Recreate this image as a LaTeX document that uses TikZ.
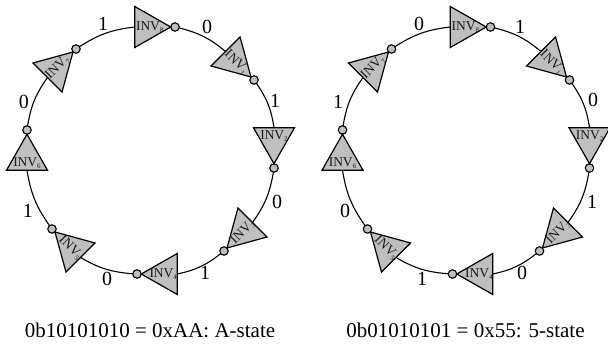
\documentclass[tikz,border=0pt]{standalone}
\usepackage{fontspec}
\setmainfont{Liberation Serif}
\usetikzlibrary{shapes.geometric}
\definecolor{invgray}{gray}{0.75}
\newcommand{\invtxt}[1]{{\fontsize{13.5}{13.5}\selectfont INV\raisebox{-2pt}{\fontsize{7}{7}\selectfont #1}}}
\tikzset{
  invtri/.style={draw=black,fill=invgray,line width=1.2pt,isosceles triangle,isosceles triangle apex angle=59,
    isosceles triangle stretches=true,minimum height=36pt,minimum width=41pt,inner sep=0pt,outer sep=0pt,anchor=apex},
  invbub/.style={draw=black,fill=invgray,line width=1.1pt,circle,minimum size=8.5pt,inner sep=0pt,outer sep=0pt},
  wire/.style={draw=black,line width=1.1pt},
  invlab/.style={inner sep=0pt,text=black!90},
  bitlab/.style={inner sep=0pt,font=\fontsize{20}{20}\selectfont},
  caplab/.style={inner sep=0pt,font=\fontsize{21}{21}\selectfont}
}
% prefix, number, x, y, triangle rotation, text rotation, text distance
\newcommand{\inverter}[7]{%
  \node[invbub] (#1b#2) at (#3,#4) {};
  \pgfmathsetmacro{\backang}{#5+180}
  \node[invtri,rotate=#5] (#1t#2) at (#1b#2.\backang) {};
  \path (#1t#2.lower side) ++(#5:#7) node[invlab,rotate=#6] (#1l#2) {\invtxt{#2}};
}
\newcommand{\ringat}[1]{%
  \begin{scope}[shift={(#1,0)}]
  \expandafter\ringbody\expandafter{\ringprefix}
  \end{scope}}
\newcommand{\ringbody}[1]{%
  \inverter{#1}{8}{175}{318}{0}{0}{15}
  \inverter{#1}{1}{254}{265}{-45}{-45}{15}
  \inverter{#1}{2}{274}{177}{-90}{0}{8.5}
  \inverter{#1}{3}{224}{94}{-135}{45}{14}
  \inverter{#1}{4}{137}{71}{180}{0}{14}
  \inverter{#1}{5}{52}{116}{135}{-45}{14}
  \inverter{#1}{6}{27}{215}{90}{0}{7}
  \inverter{#1}{7}{76}{296}{45}{45}{14}
  \draw[wire] (#1b8) to[bend left=13] (#1t1.lower side);
  \draw[wire] (#1b1) to[bend left=13] (#1t2.lower side);
  \draw[wire] (#1b2) to[bend left=13] (#1t3.lower side);
  \draw[wire] (#1b3) to[bend left=13] (#1t4.lower side);
  \draw[wire] (#1b4) to[bend left=13] (#1t5.lower side);
  \draw[wire] (#1b5) to[bend left=13] (#1t6.lower side);
  \draw[wire] (#1b6) to[bend left=13] (#1t7.lower side);
  \draw[wire] (#1b7) to[bend left=13] (#1t8.lower side);
}
\begin{document}
\begin{tikzpicture}[x=1pt,y=1pt]
\useasboundingbox (0,0) rectangle (608,345);
\def\ringprefix{a}\ringat{0}
\def\ringprefix{c}\ringat{315.5}
% left bits
\node[bitlab] (abit1) at (103,321) {1};
\node[bitlab] (abit2) at (207,318) {0};
\node[bitlab] (abit3) at (275,244) {1};
\node[bitlab] (abit4) at (277,143) {0};
\node[bitlab] (abit5) at (205,72) {1};
\node[bitlab] (abit6) at (107,66) {0};
\node[bitlab] (abit7) at (28,134) {1};
\node[bitlab] (abit8) at (24,243) {0};
% right bits
\node[bitlab] (cbit1) at (419,321) {0};
\node[bitlab] (cbit2) at (520,318) {1};
\node[bitlab] (cbit3) at (593,245) {0};
\node[bitlab] (cbit4) at (592,143) {1};
\node[bitlab] (cbit5) at (522,72) {0};
\node[bitlab] (cbit6) at (422,66) {1};
\node[bitlab] (cbit7) at (345,134) {0};
\node[bitlab] (cbit8) at (338,243) {1};
% captions
\node[caplab] (capa) at (150,15) {0b10101010 = 0xAA: A-state};
\node[caplab] (capc) at (465.5,15) {0b01010101 = 0x55: 5-state};
\end{tikzpicture}
\end{document}
